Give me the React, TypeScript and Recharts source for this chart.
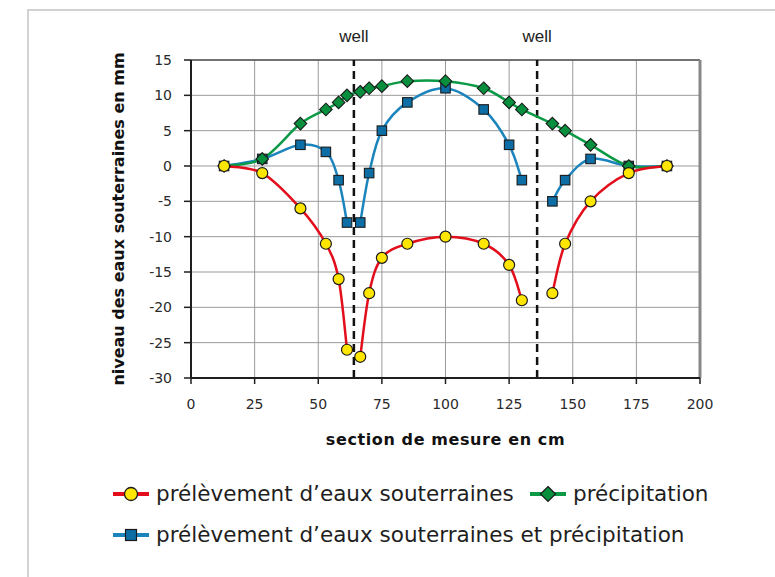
import React from 'react';
import { LineChart, Line, XAxis, YAxis, CartesianGrid, ReferenceLine } from 'recharts';

// positions of the measuring points (cm)
const positions = [13, 28, 43, 53, 58, 61.3, 66.5, 70, 75, 85, 100, 115, 125, 130, 142, 147, 157, 172, 187];
// groundwater extraction (mm)
const extraction = [0, -1, -6, -11, -16, -26, -27, -18, -13, -11, -10, -11, -14, -19, -18, -11, -5, -1, 0];
// precipitation (mm)
const precipitation = [0, 1, 6, 8, 9, 10, 10.5, 11, 11.3, 12, 12, 11, 9, 8, 6, 5, 3, 0, 0];
// extraction + precipitation (mm)
const combined = [0, 1, 3, 2, -2, -8, -8, -1, 5, 9, 11, 8, 3, -2, -5, -2, 1, 0, 0];
// well positions (cm)
const wells = [64, 136];

const xTicks = [0, 25, 50, 75, 100, 125, 150, 175, 200];
const yTicks = [-30, -25, -20, -15, -10, -5, 0, 5, 10, 15];

const LABEL_EXTRACTION = 'prélèvement d’eaux souterraines';
const LABEL_PRECIP = 'précipitation';
const LABEL_COMBINED = 'prélèvement d’eaux souterraines et précipitation';
const X_TITLE = 'section de mesure en cm';
const Y_TITLE = 'niveau des eaux souterraines en mm';

const RED = '#e30e1b';
const GREEN = '#0a9a45';
const BLUE = '#1b84bd';
const YELLOW = '#ffe600';
const GREEN_FILL = '#078f3e';
const BLUE_FILL = '#0d6ea5';

// build table; a row with nulls at each well breaks the drawdown curves
const rows: any[] = positions.map((x, i) => ({
  x,
  extraction: extraction[i],
  precipitation: precipitation[i],
  combined: combined[i],
}));
wells.forEach((w) => rows.push({ x: w, extraction: null, precipitation: null, combined: null }));
const data = rows.sort((a, b) => a.x - b.x);

// Catmull-Rom style smoothing (similar to spreadsheet "smoothed line")
const smoothCurve = (context: any) => {
  let pts: number[][] = [];
  return {
    areaStart() {},
    areaEnd() {},
    lineStart() {
      pts = [];
    },
    point(x: number, y: number) {
      pts.push([+x, +y]);
    },
    lineEnd() {
      const n = pts.length;
      if (!n) return;
      context.moveTo(pts[0][0], pts[0][1]);
      if (n === 1) {
        context.lineTo(pts[0][0], pts[0][1]);
        return;
      }
      for (let i = 0; i < n - 1; i++) {
        const p0 = pts[i - 1] || pts[i];
        const p1 = pts[i];
        const p2 = pts[i + 1];
        const p3 = pts[i + 2] || pts[i + 1];
        const c1x = p1[0] + (p2[0] - p0[0]) / 6;
        const c1y = p1[1] + (p2[1] - p0[1]) / 6;
        const c2x = p2[0] - (p3[0] - p1[0]) / 6;
        const c2y = p2[1] - (p3[1] - p1[1]) / 6;
        context.bezierCurveTo(c1x, c1y, c2x, c2y, p2[0], p2[1]);
      }
    },
  };
};

const CircleDot = (props: any) => {
  const { cx, cy, index, payload } = props;
  if (cx == null || cy == null || payload == null || payload.extraction == null) return <g key={`c-${index}`} />;
  return <circle key={`c-${index}`} cx={cx} cy={cy} r={5.5} fill={YELLOW} stroke="#1a1a1a" strokeWidth={1.2} />;
};

const DiamondDot = (props: any) => {
  const { cx, cy, index, payload } = props;
  if (cx == null || cy == null || payload == null || payload.precipitation == null) return <g key={`d-${index}`} />;
  const r = 6.3;
  return (
    <polygon
      key={`d-${index}`}
      points={`${cx},${cy - r} ${cx + r},${cy} ${cx},${cy + r} ${cx - r},${cy}`}
      fill={GREEN_FILL}
      stroke="#1a1a1a"
      strokeWidth={1.1}
    />
  );
};

const SquareDot = (props: any) => {
  const { cx, cy, index, payload } = props;
  if (cx == null || cy == null || payload == null || payload.combined == null) return <g key={`s-${index}`} />;
  const s = 9.5;
  return (
    <rect
      key={`s-${index}`}
      x={cx - s / 2}
      y={cy - s / 2}
      width={s}
      height={s}
      fill={BLUE_FILL}
      stroke="#1a1a1a"
      strokeWidth={1.1}
    />
  );
};

const LegendIcon = ({ color, kind }: { color: string; kind: string }) => (
  <svg width={36} height={20} style={{ display: 'block', flex: 'none' }}>
    <line x1={0} y1={10} x2={36} y2={10} stroke={color} strokeWidth={4} />
    {kind === 'circle' && <circle cx={18} cy={10} r={6.5} fill={YELLOW} stroke="#1a1a1a" strokeWidth={1.3} />}
    {kind === 'diamond' && (
      <polygon points="18,2.5 25.5,10 18,17.5 10.5,10" fill={GREEN_FILL} stroke="#1a1a1a" strokeWidth={1.2} />
    )}
    {kind === 'square' && <rect x={12.5} y={4.5} width={11} height={11} fill={BLUE_FILL} stroke="#1a1a1a" strokeWidth={1.2} />}
  </svg>
);

const legendText: React.CSSProperties = {
  fontFamily: '"DejaVu Sans", sans-serif',
  fontSize: 21.5,
  color: '#1e1e1e',
  marginLeft: 7,
  whiteSpace: 'nowrap',
  lineHeight: '24px',
};

const LegendItem = ({ color, kind, label, left, top }: any) => (
  <div style={{ position: 'absolute', left, top, display: 'flex', alignItems: 'center', height: 24 }}>
    <LegendIcon color={color} kind={kind} />
    <span style={legendText}>{label}</span>
  </div>
);

const tickStyle = { fontFamily: '"DejaVu Sans", sans-serif', fontSize: 14, fill: '#2a2a2a' };

export default function App() {
  return (
    <div style={{ position: 'absolute', left: 0, top: 0, width: 775, height: 577, overflow: 'hidden', background: '#fff' }}>
      <div
        style={{
          position: 'absolute',
          left: 27,
          top: 9,
          width: 775,
          height: 600,
          borderTop: '2.5px solid #d2d2d2',
          borderLeft: '2.5px solid #d2d2d2',
        }}
      />
      <div style={{ position: 'absolute', left: 0, top: 0 }}>
        <LineChart width={775} height={577} data={data} margin={{ top: 60, right: 75, bottom: 132, left: 46 }}>
          <CartesianGrid stroke="#9a9a9a" strokeWidth={1} />
          <XAxis
            dataKey="x"
            type="number"
            domain={[0, 200]}
            ticks={xTicks}
            interval={0}
            height={67}
            tickSize={6}
            tickMargin={15}
            tick={tickStyle}
            axisLine={{ stroke: '#1e1e1e', strokeWidth: 2 }}
            tickLine={{ stroke: '#1e1e1e', strokeWidth: 1.5 }}
            label={{
              value: X_TITLE,
              position: 'insideBottom',
              offset: 0,
              style: { fontFamily: '"DejaVu Sans", sans-serif', fontSize: 16, fontWeight: 'bold', fill: '#111', letterSpacing: 0.6 },
            }}
          />
          <YAxis
            type="number"
            domain={[-30, 15]}
            ticks={yTicks}
            interval={0}
            width={145}
            tickSize={7}
            tickMargin={12}
            tick={tickStyle}
            axisLine={{ stroke: '#1e1e1e', strokeWidth: 2 }}
            tickLine={{ stroke: '#1e1e1e', strokeWidth: 1.5 }}
            label={{
              value: Y_TITLE,
              angle: -90,
              position: 'center',
              style: { fontFamily: '"DejaVu Sans", sans-serif', fontSize: 16, fontWeight: 'bold', fill: '#111', textAnchor: 'middle' },
            }}
          />
          <ReferenceLine y={15} stroke="#555" strokeWidth={1.5} />
          <ReferenceLine x={200} stroke="#888" strokeWidth={3} />
          {wells.map((w) => (
            <ReferenceLine
              key={`well-${w}`}
              x={w}
              stroke="#111"
              strokeWidth={2.5}
              strokeDasharray="8 5"
              label={{ value: 'well', position: 'top', offset: 18, fill: '#222', fontSize: 17, fontFamily: '"Liberation Sans", sans-serif' }}
            />
          ))}
          <Line
            dataKey="combined"
            type={smoothCurve as any}
            stroke={BLUE}
            strokeWidth={2.5}
            dot={SquareDot}
            activeDot={false}
            connectNulls={false}
            isAnimationActive={false}
          />
          <Line
            dataKey="precipitation"
            type={smoothCurve as any}
            stroke={GREEN}
            strokeWidth={2.5}
            dot={DiamondDot}
            activeDot={false}
            connectNulls={true}
            isAnimationActive={false}
          />
          <Line
            dataKey="extraction"
            type={smoothCurve as any}
            stroke={RED}
            strokeWidth={2.5}
            dot={CircleDot}
            activeDot={false}
            connectNulls={false}
            isAnimationActive={false}
          />
        </LineChart>
      </div>
      <LegendItem color={RED} kind="circle" label={LABEL_EXTRACTION} left={113} top={482} />
      <LegendItem color={GREEN} kind="diamond" label={LABEL_PRECIP} left={530} top={482} />
      <LegendItem color={BLUE} kind="square" label={LABEL_COMBINED} left={113} top={523} />
    </div>
  );
}
